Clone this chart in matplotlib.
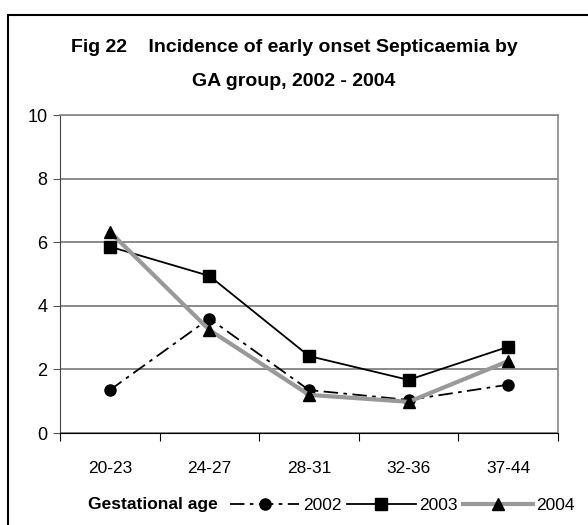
import matplotlib
matplotlib.use("Agg")
import matplotlib.pyplot as plt
from matplotlib.patches import Rectangle

categories = ["20-23", "24-27", "28-31", "32-36", "37-44"]
s2002 = [1.35, 3.6, 1.35, 1.04, 1.52]
s2003 = [5.86, 4.94, 2.42, 1.67, 2.71]
s2004 = [6.33, 3.24, 1.2, 0.98, 2.26]
yticks = [0, 2, 4, 6, 8, 10]

plt.rcParams['font.family'] = ['Liberation Sans', 'DejaVu Sans']

W, H = 588, 525
fig = plt.figure(figsize=(W/100, H/100), dpi=100)
ax = fig.add_axes([60/W, 1-433/H, (558-60)/W, (433-115)/H])

x = list(range(len(categories)))
ax.plot(x, s2002, color='black', lw=1.3, dashes=(8, 3, 2, 3), marker='o',
        markersize=8, label='2002', zorder=3)
ax.plot(x, s2003, color='black', lw=1.3, marker='s', markersize=8,
        label='2003', zorder=3)
ax.plot(x, s2004, color='#999999', lw=3, marker='^', markersize=8.5,
        markerfacecolor='black', markeredgecolor='black', label='2004', zorder=3)

ax.set_xlim(-0.5, len(categories) - 0.5)
ax.set_ylim(0, 10)
ax.set_yticks(yticks)
ax.set_yticklabels([str(v) for v in yticks], fontsize=13)
ax.set_xticks([i - 0.5 for i in range(len(categories) + 1)], minor=False)
ax.set_xticklabels([])
ax.set_xticks(x, minor=True)
ax.set_xticklabels(categories, minor=True, fontsize=12.5)
ax.tick_params(axis='x', which='minor', length=0, pad=20)
ax.tick_params(axis='x', which='major', length=6, direction='out', color='black')
ax.tick_params(axis='y', length=5, direction='out', color='#555555', pad=4)
ax.yaxis.grid(True, color='#777777', lw=1.2)
ax.set_axisbelow(True)
for s in ['top', 'right']:
    ax.spines[s].set_color('#888888')
    ax.spines[s].set_linewidth(1.2)
ax.spines['left'].set_color('#444444')
ax.spines['bottom'].set_color('black')

fig.text(0.5, 1-47/H, "Fig 22    Incidence of early onset Septicaemia by",
         ha='center', va='center', fontsize=14, fontweight='bold')
fig.text(0.5, 1-82/H, "GA group, 2002 - 2004",
         ha='center', va='center', fontsize=14, fontweight='bold')

fig.text(88/W, 1-505/H, "Gestational age", ha='left', va='center',
         fontsize=12.5, fontweight='bold')

handles, labels = ax.get_legend_handles_labels()
leg = fig.legend(handles, labels, loc='center left', bbox_to_anchor=(230/W, 1-505/H),
                 ncol=3, frameon=False, fontsize=12.5, handlelength=4.0,
                 handletextpad=0.2, columnspacing=0.3, borderaxespad=0, borderpad=0)

fig.add_artist(Rectangle((8/W, -0.1), 1.2, 1-15/H+0.1, transform=fig.transFigure,
                         fill=False, edgecolor='black', lw=1.5))

fig.savefig("out.png", dpi=100)
